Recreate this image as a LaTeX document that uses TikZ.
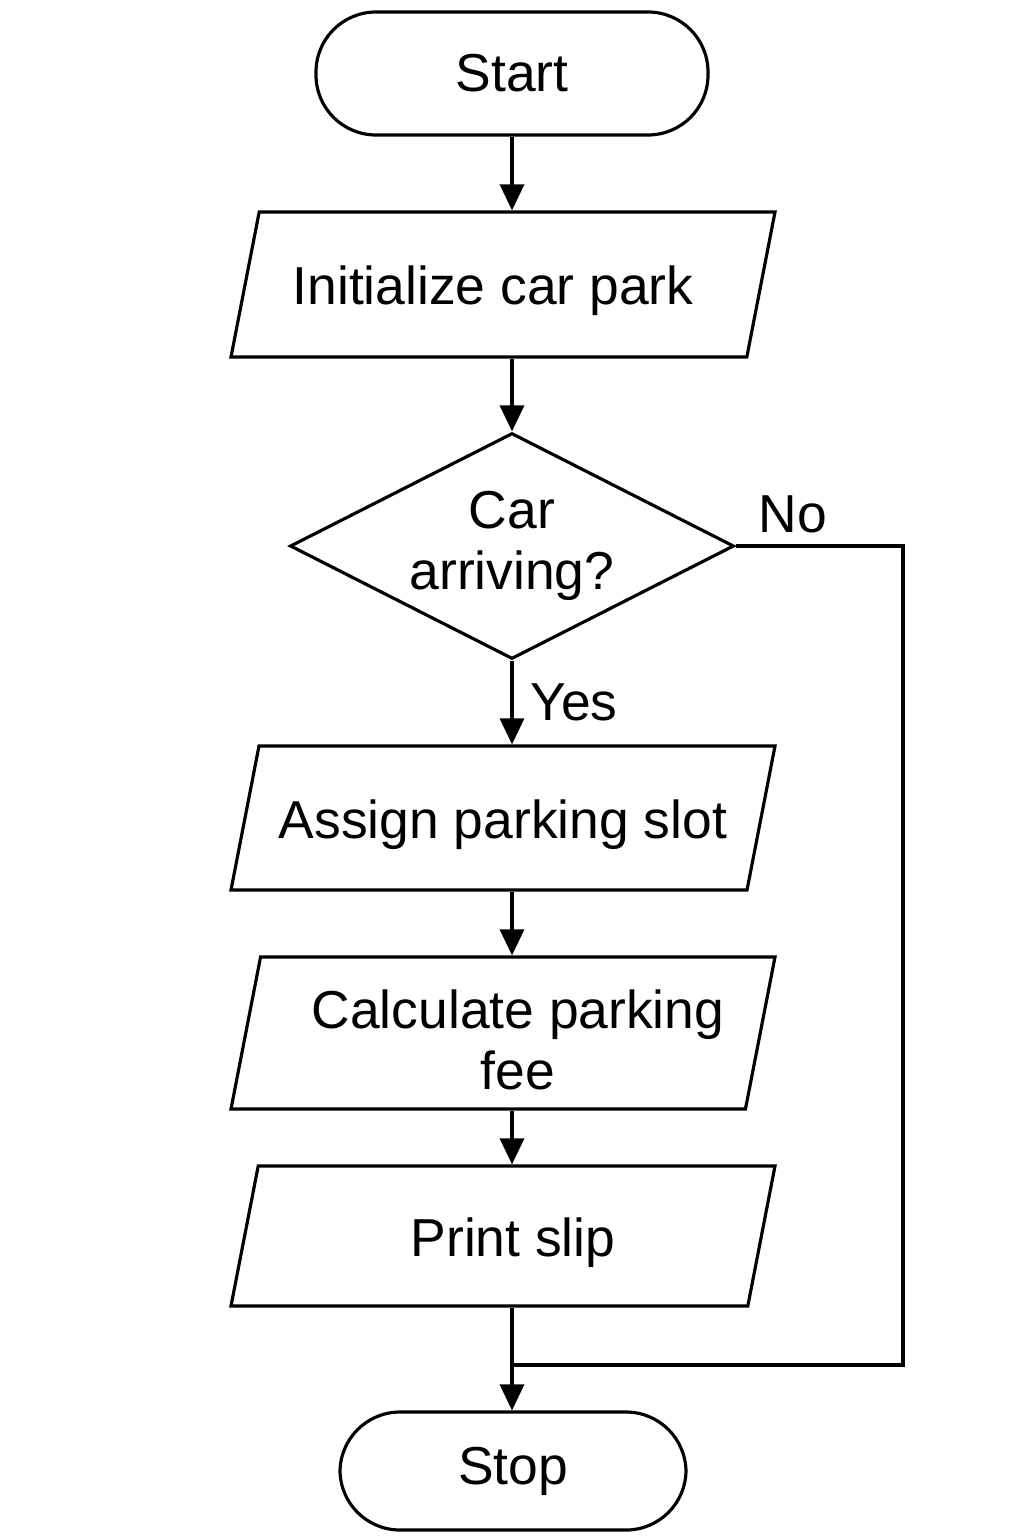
\documentclass[tikz,border=0pt]{standalone}
\usepackage{fontspec}
\setmainfont{Liberation Sans}
\usetikzlibrary{shapes.geometric, arrows.meta, positioning, calc}

\tikzset{
    terminal/.style={draw, rectangle, rounded corners=6mm, align=center},
    iobox/.style={draw, trapezium, trapezium left angle=79, trapezium right angle=101,
        trapezium stretches body=true, minimum width=5.44cm, align=center,
        inner xsep=0pt, text height=0.45cm, text depth=0.05cm},
    decision/.style={draw, diamond, aspect=1.96, minimum width=4.44cm, minimum height=2.26cm,
        inner sep=0pt, align=center},
    flow/.style={-{Triangle[length=2.6mm,width=2.4mm]}},
}

\begin{document}
\begin{tikzpicture}[line width=0.9pt, font=\fontsize{15.2}{17.4}\selectfont]
    \useasboundingbox (0,0) rectangle (10.24,-15.36);
    % shapes
    \node[terminal, minimum width=3.92cm, minimum height=1.23cm] (start) at (5.12,-0.735) {Start};
    \node[iobox, inner ysep=0.475cm] (init) at (5.03,-2.845) {Initialize car park\hspace*{2mm}};
    \node[decision] (arrive) at (5.12,-5.46) {Car\\arriving?};
    \node[iobox, inner ysep=0.47cm] (assign) at (5.03,-8.18) {Assign parking slot};
    \node[iobox, text height=1.13cm, text depth=-0.02cm, inner ysep=0.195cm] (fee) at (5.03,-10.33) {\hspace*{3mm}Calculate parking\\\hspace*{3mm}fee};
    \node[iobox, inner ysep=0.45cm] (slip) at (5.03,-12.36) {\hspace*{2mm}Print slip};
    \node[terminal, minimum width=3.46cm, minimum height=1.18cm] (stop) at (5.13,-14.71) {Stop};
    \coordinate (side) at (9.03,-5.46);
    \coordinate (merge) at (5.12,-13.65);

    % connectors
    \draw[flow] (start.south) -- (start.south |- init.north);
    \draw[flow] (arrive.north |- init.south) -- (arrive.north);
    \draw[flow] (arrive.south) -- node[right, xshift=0.5mm] {Yes} (arrive.south |- assign.north);
    \draw[flow] (arrive.south |- assign.south) -- (arrive.south |- fee.north);
    \draw[flow] (arrive.south |- fee.south) -- (arrive.south |- slip.north);
    \draw[flow] (arrive.south |- slip.south) -- (arrive.south |- stop.north);
    \draw (arrive.east) node[above right, xshift=1mm] {No} -- (side) |- (merge);
\end{tikzpicture}
\end{document}
